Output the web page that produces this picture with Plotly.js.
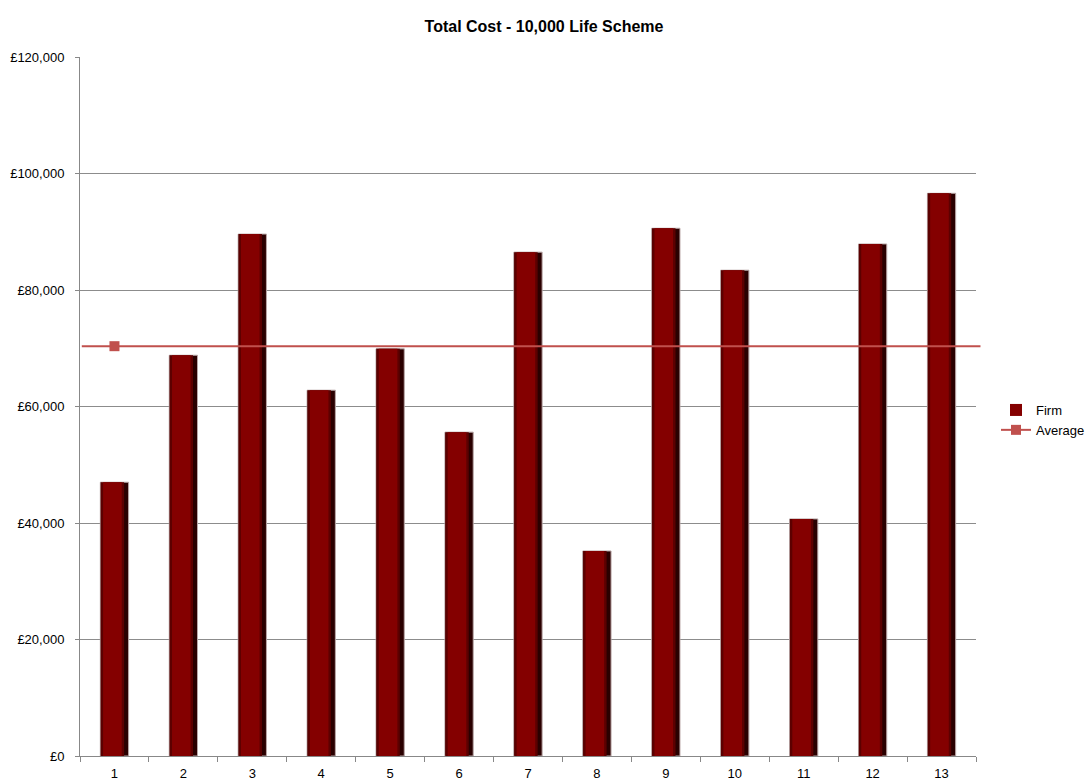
<!DOCTYPE html>
<html>
<head>
<meta charset="utf-8">
<script src="https://cdn.plot.ly/plotly-3.0.1.min.js"></script>
<style>
  html, body { margin: 0; padding: 0; background: #fff; }
  #chart { width: 1088px; height: 783px; }
</style>
</head>
<body>
<div id="chart"></div>
<script>
// Firms and their total cost for the 10,000 life scheme (GBP)
const firms = ['1', '2', '3', '4', '5', '6', '7', '8', '9', '10', '11', '12', '13'];
const totalCost = [47000, 68800, 89600, 62800, 69900, 55600, 86500, 35200, 90600, 83400, 40700, 87900, 96600];
const yTicks = [0, 20000, 40000, 60000, 80000, 100000, 120000];
const yTickText = yTicks.map(v => '£' + v.toLocaleString('en-GB'));

const average = totalCost.reduce((a, b) => a + b, 0) / totalCost.length;

// Bars are built from a dark full-width body with a lighter face on top,
// giving the shaded column look
const barShadow = {
  type: 'bar',
  name: 'Firm',
  x: firms,
  y: totalCost,
  width: 0.41,
  offset: -0.205,
  marker: { color: '#2a0000', line: { color: '#b9a7a7', width: 1 } },
  showlegend: false,
  hoverinfo: 'skip'
};

const barEdge = {
  type: 'bar',
  name: 'Firm',
  x: firms,
  y: totalCost,
  width: 0.34,
  offset: -0.2,
  marker: { color: '#5c0000', line: { width: 0 } },
  showlegend: false,
  hoverinfo: 'skip'
};

const firmTrace = {
  type: 'bar',
  name: 'Firm',
  x: firms,
  y: totalCost,
  width: 0.27,
  offset: -0.165,
  marker: { color: '#840000', line: { width: 0 } },
  hoverinfo: 'x+y'
};

// Average marker sits on the first firm; the line itself spans the plot
const averageTrace = {
  type: 'scatter',
  mode: 'lines+markers',
  name: 'Average',
  x: [firms[0]],
  y: [average],
  line: { color: '#c0504d', width: 2 },
  marker: { symbol: 'square', size: 10, color: '#c0504d' },
  cliponaxis: false
};

const layout = {
  width: 1088,
  height: 783,
  paper_bgcolor: '#fff',
  plot_bgcolor: '#fff',
  margin: { l: 80, r: 112, t: 57, b: 27, autoexpand: false },
  font: { family: 'Liberation Sans, Arial, sans-serif', size: 13, color: '#000' },
  title: {
    text: '<b>Total Cost - 10,000 Life Scheme</b>',
    font: { family: 'Liberation Sans Narrow, Arial Narrow, Liberation Sans, sans-serif', size: 16, color: '#000' },
    x: 0.5, xref: 'container', xanchor: 'center',
    y: 1 - 26 / 783, yref: 'container', yanchor: 'middle'
  },
  barmode: 'overlay',
  showlegend: true,
  legend: {
    xref: 'container', yref: 'container',
    x: 996 / 1088, xanchor: 'left', y: 1 - 420 / 783, yanchor: 'middle',
    font: { size: 13 }, bgcolor: 'rgba(0,0,0,0)', tracegroupgap: 0
  },
  xaxis: {
    type: 'category',
    categoryorder: 'array',
    categoryarray: firms,
    range: [-0.5, firms.length - 0.5],
    tickson: 'boundaries',
    ticks: 'outside', ticklen: 5, tickcolor: '#888',
    showline: true, linecolor: '#888', linewidth: 1,
    showgrid: false, zeroline: false,
    ticklabelstandoff: 5,
    tickfont: { size: 13 },
    fixedrange: true
  },
  yaxis: {
    range: [0, 120000],
    tickmode: 'array',
    tickvals: yTicks,
    ticktext: yTickText,
    ticks: 'outside', ticklen: 4, tickcolor: '#888',
    showline: true, linecolor: '#888', linewidth: 1,
    showgrid: true, gridcolor: '#8c8c8c', gridwidth: 1,
    zeroline: false,
    ticklabelstandoff: 8,
    tickfont: { size: 13 },
    fixedrange: true
  },
  shapes: [{
    type: 'line', xref: 'paper', yref: 'y',
    x0: 0.002, x1: 1.005, y0: average, y1: average,
    line: { color: '#c0504d', width: 2 },
    layer: 'above'
  }]
};

Plotly.newPlot('chart', [barShadow, barEdge, firmTrace, averageTrace], layout, { displayModeBar: false, staticPlot: true });
</script>
</body>
</html>
